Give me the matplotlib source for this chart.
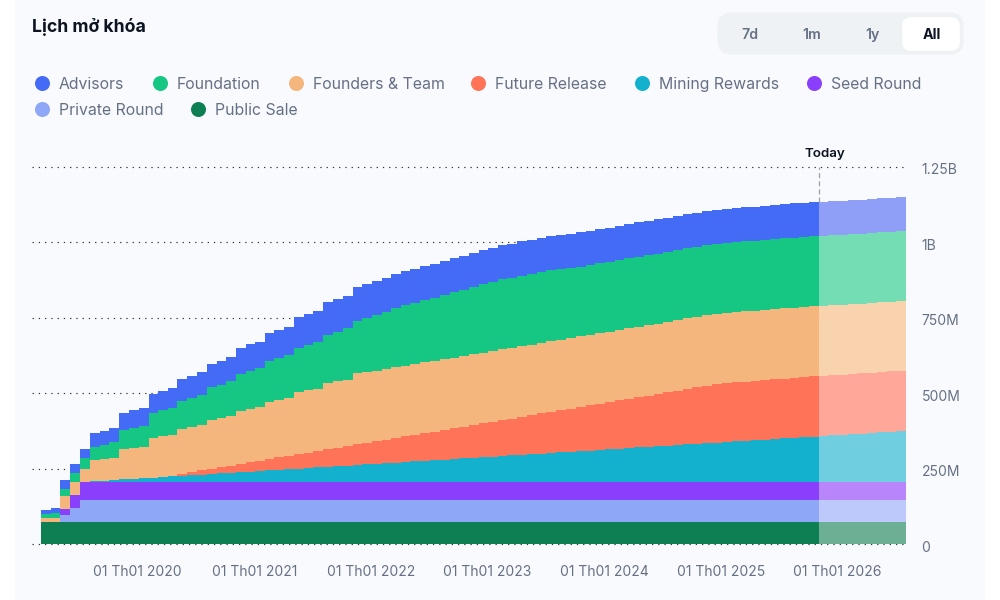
import numpy as np
import pandas as pd
import matplotlib
matplotlib.use('Agg')
import matplotlib.pyplot as plt
import matplotlib.dates as mdates
from matplotlib.patches import FancyBboxPatch, Rectangle
from matplotlib.transforms import ScaledTranslation

plt.rcParams['font.family'] = ['Inter', 'DejaVu Sans']

# monthly unlocked tokens in millions
start_month = '2019-03-01'
today_index = 80

advisors = [14, 14, 29, 28, 31, 44, 46, 46, 56, 60,
            62, 63, 65, 66, 72, 74, 74, 77, 81, 81,
            85, 89, 88, 92, 94, 93, 101, 103, 102, 108,
            108, 107, 115, 114, 113, 113, 113, 113, 113, 113,
            113, 113, 113, 113, 113, 113, 113, 113, 113, 113,
            113, 113, 113, 113, 113, 113, 113, 113, 113, 113,
            113, 113, 113, 113, 113, 113, 113, 113, 113, 113,
            113, 113, 113, 113, 113, 113, 113, 113, 113, 113,
            113, 113, 113, 113, 113, 113, 113, 113, 113]
foundation = [12, 18, 25, 32, 36, 44, 47, 53, 63, 65,
              70, 83, 86, 88, 94, 96, 102, 108, 110, 116,
              122, 124, 129, 136, 138, 144, 146, 152, 158, 160,
              164, 171, 171, 178, 185, 190, 195, 200, 203, 207,
              210, 213, 216, 220, 224, 227, 230, 232, 233, 234,
              235, 235, 235, 234, 233, 232, 232, 232, 232, 232,
              232, 232, 232, 232, 232, 232, 232, 232, 232, 232,
              232, 232, 232, 232, 232, 232, 232, 232, 232, 232,
              232, 232, 232, 232, 232, 232, 232, 232, 232]
founders = [14, 14, 43, 43, 42, 71, 71, 73, 101, 102,
            102, 132, 135, 135, 148, 150, 149, 163, 163, 163,
            177, 178, 178, 191, 191, 192, 206, 206, 205, 220,
            221, 220, 237, 236, 234, 234, 234, 234, 234, 234,
            234, 234, 234, 234, 234, 234, 234, 234, 234, 234,
            234, 234, 234, 234, 234, 234, 234, 234, 234, 234,
            234, 234, 234, 234, 234, 234, 234, 234, 234, 234,
            234, 233, 233, 233, 233, 233, 233, 233, 233, 232,
            231, 231, 231, 231, 231, 231, 231, 231, 231]
future_release = [0, 0, 0, 0, 0, 0, 0, 0, 0, 0,
                  0, 0, 0, 3, 7, 10, 14, 17, 20, 24,
                  27, 31, 34, 37, 41, 44, 48, 51, 54, 58,
                  61, 65, 68, 71, 75, 78, 82, 85, 88, 92,
                  95, 99, 102, 105, 109, 112, 116, 119, 122, 126,
                  129, 133, 136, 139, 143, 146, 150, 153, 156, 160,
                  163, 167, 170, 173, 177, 180, 184, 188, 191, 193,
                  195, 196, 196, 197, 197, 198, 198, 199, 199, 200,
                  200, 200, 200, 200, 200, 200, 200, 200, 200]
mining_rewards = [0, 0, 0, 0, 0, 2, 4, 6, 8, 10,
                  12, 14, 16, 18, 20, 22, 24, 26, 28, 30,
                  32, 34, 36, 38, 40, 42, 44, 46, 48, 50,
                  52, 54, 56, 58, 60, 62, 64, 66, 68, 70,
                  72, 74, 76, 78, 80, 82, 84, 86, 88, 90,
                  92, 94, 96, 98, 100, 102, 104, 106, 108, 110,
                  112, 114, 116, 118, 120, 122, 124, 126, 128, 130,
                  132, 134, 136, 138, 140, 142, 144, 146, 148, 150,
                  152, 154, 156, 158, 160, 162, 164, 166, 169]
seed_round = [0, 0, 20, 41] + [60] * 85
private_round = [0, 0, 24, 48] + [74] * 85
public_sale = [72] * 89

series_names = ['Advisors', 'Foundation', 'Founders & Team', 'Future Release',
                'Mining Rewards', 'Seed Round', 'Private Round', 'Public Sale']
series_colors = ['#436BF5', '#16C784', '#F4B67C', '#FF7358',
                 '#13B1CE', '#8A3FFC', '#8FA7F7', '#0E7F52']
faded_colors = ['#8F9FF8', '#74DDB4', '#F9D2AE', '#FFA899',
                '#70CEE1', '#B985FB', '#BEC9FB', '#6DAF94']

y_ticks = [0, 250, 500, 750, 1000, 1250]
y_labels = ['0', '250M', '500M', '750M', '1B', '1.25B']
x_years = [2020, 2021, 2022, 2023, 2024, 2025, 2026]
tabs = ['7d', '1m', '1y', 'All']

grey = '#667085'

fig = plt.figure(figsize=(10, 6), dpi=100, facecolor='white')

# page layer in pixels, holds title, tabs and legend
page = fig.add_axes([0, 0, 1, 1])
page.set_xlim(0, 1000)
page.set_ylim(600, 0)
page.axis('off')
page.add_patch(Rectangle((15, 0), 970, 600, color='#F8FAFD', lw=0))

page.text(32, 32, 'Lịch mở khóa', fontsize=12.7, fontweight='bold', color='#0D1421', va='baseline')

page.add_patch(FancyBboxPatch((723, 18), 235, 31, boxstyle='round,pad=0,rounding_size=8',
                              mutation_aspect=1, fc='#EFF2F5', ec='#EFF2F5', lw=8))
page.add_patch(FancyBboxPatch((905, 20), 52, 28, boxstyle='round,pad=0,rounding_size=6',
                              fc='white', ec='white', lw=4))
for tab, tab_x in zip(tabs, [749.5, 811.5, 872, 931.5]):
    if tab == 'All':
        page.text(tab_x, 39, tab, fontsize=10.2, fontweight='bold', color='#0D1421', ha='center', va='baseline')
    else:
        page.text(tab_x, 39, tab, fontsize=10.2, fontweight='semibold', color=grey, ha='center', va='baseline')

legend_x = [42, 160, 296, 478, 642, 814, 42, 198]
legend_y = [83, 83, 83, 83, 83, 83, 109, 109]
for name, color, lx, ly in zip(series_names, series_colors, legend_x, legend_y):
    page.plot(lx, ly, 'o', ms=10.8, color=color, mew=0)
    page.text(lx + 17, ly + 6, name, fontsize=11.4, color=grey, va='baseline')

# chart
ax = fig.add_axes([32 / 1000, 1 - 544 / 600, (907 - 32) / 1000, (544 - 167) / 600])
ax.patch.set_alpha(0)

months = pd.date_range(start_month, periods=90, freq='MS')
stack = np.array([public_sale, private_round, seed_round, mining_rewards,
                  future_release, founders, foundation, advisors], dtype=float)
tops = np.cumsum(stack, axis=0)
tops = np.column_stack([tops, tops[:, -1]])

# paint from the tallest layer down so there are no seams between layers
for k in range(7, -1, -1):
    color = series_colors[7 - k]
    faded = faded_colors[7 - k]
    ax.fill_between(months[:today_index + 1], 0, tops[k, :today_index + 1], step='post', color=color, lw=0)
    ax.fill_between(months[today_index:], 0, tops[k, today_index:], step='post', color=faded, lw=0)

ax.set_xlim(months[0] - pd.Timedelta(days=28), months[-1] + pd.Timedelta(days=3))
ax.set_ylim(0, 1250)

ax.set_yticks(y_ticks)
ax.set_yticklabels(y_labels, va='center')
ax.yaxis.tick_right()
ax.set_xticks([mdates.date2num(pd.Timestamp(year=y, month=1, day=1) - pd.Timedelta(days=3)) for y in x_years])
ax.set_xticklabels(['01 Th01 %d' % y for y in x_years])
ax.tick_params(axis='x', length=0, pad=15, labelsize=10, labelcolor=grey)
ax.tick_params(axis='y', length=0, pad=10.5, labelsize=10, labelcolor=grey)
# labels sit a little under their grid lines
label_shift = ScaledTranslation(0, -3.5 / 100, fig.dpi_scale_trans)
for lab in ax.get_yticklabels():
    lab.set_transform(lab.get_transform() + label_shift)
for spine in ax.spines.values():
    spine.set_visible(False)

ax.set_axisbelow(True)
ax.grid(axis='y', color='#333333', lw=0.85, linestyle=(0, (1.1, 4.2)))
for line in ax.get_ygridlines():
    line.set_clip_on(False)

# today marker
today = months[today_index]
ax.plot([today, today], [tops[-1, today_index], 1250], color='#9AA1AE', lw=0.9, linestyle=(0, (4, 2.5)))
ax.annotate('Today', (today, 1250), xytext=(4.5, 9), textcoords='offset points', fontsize=9.6,
            fontweight='semibold', color='#0D1421', ha='center', va='center')

fig.savefig('out.png', dpi=100)
